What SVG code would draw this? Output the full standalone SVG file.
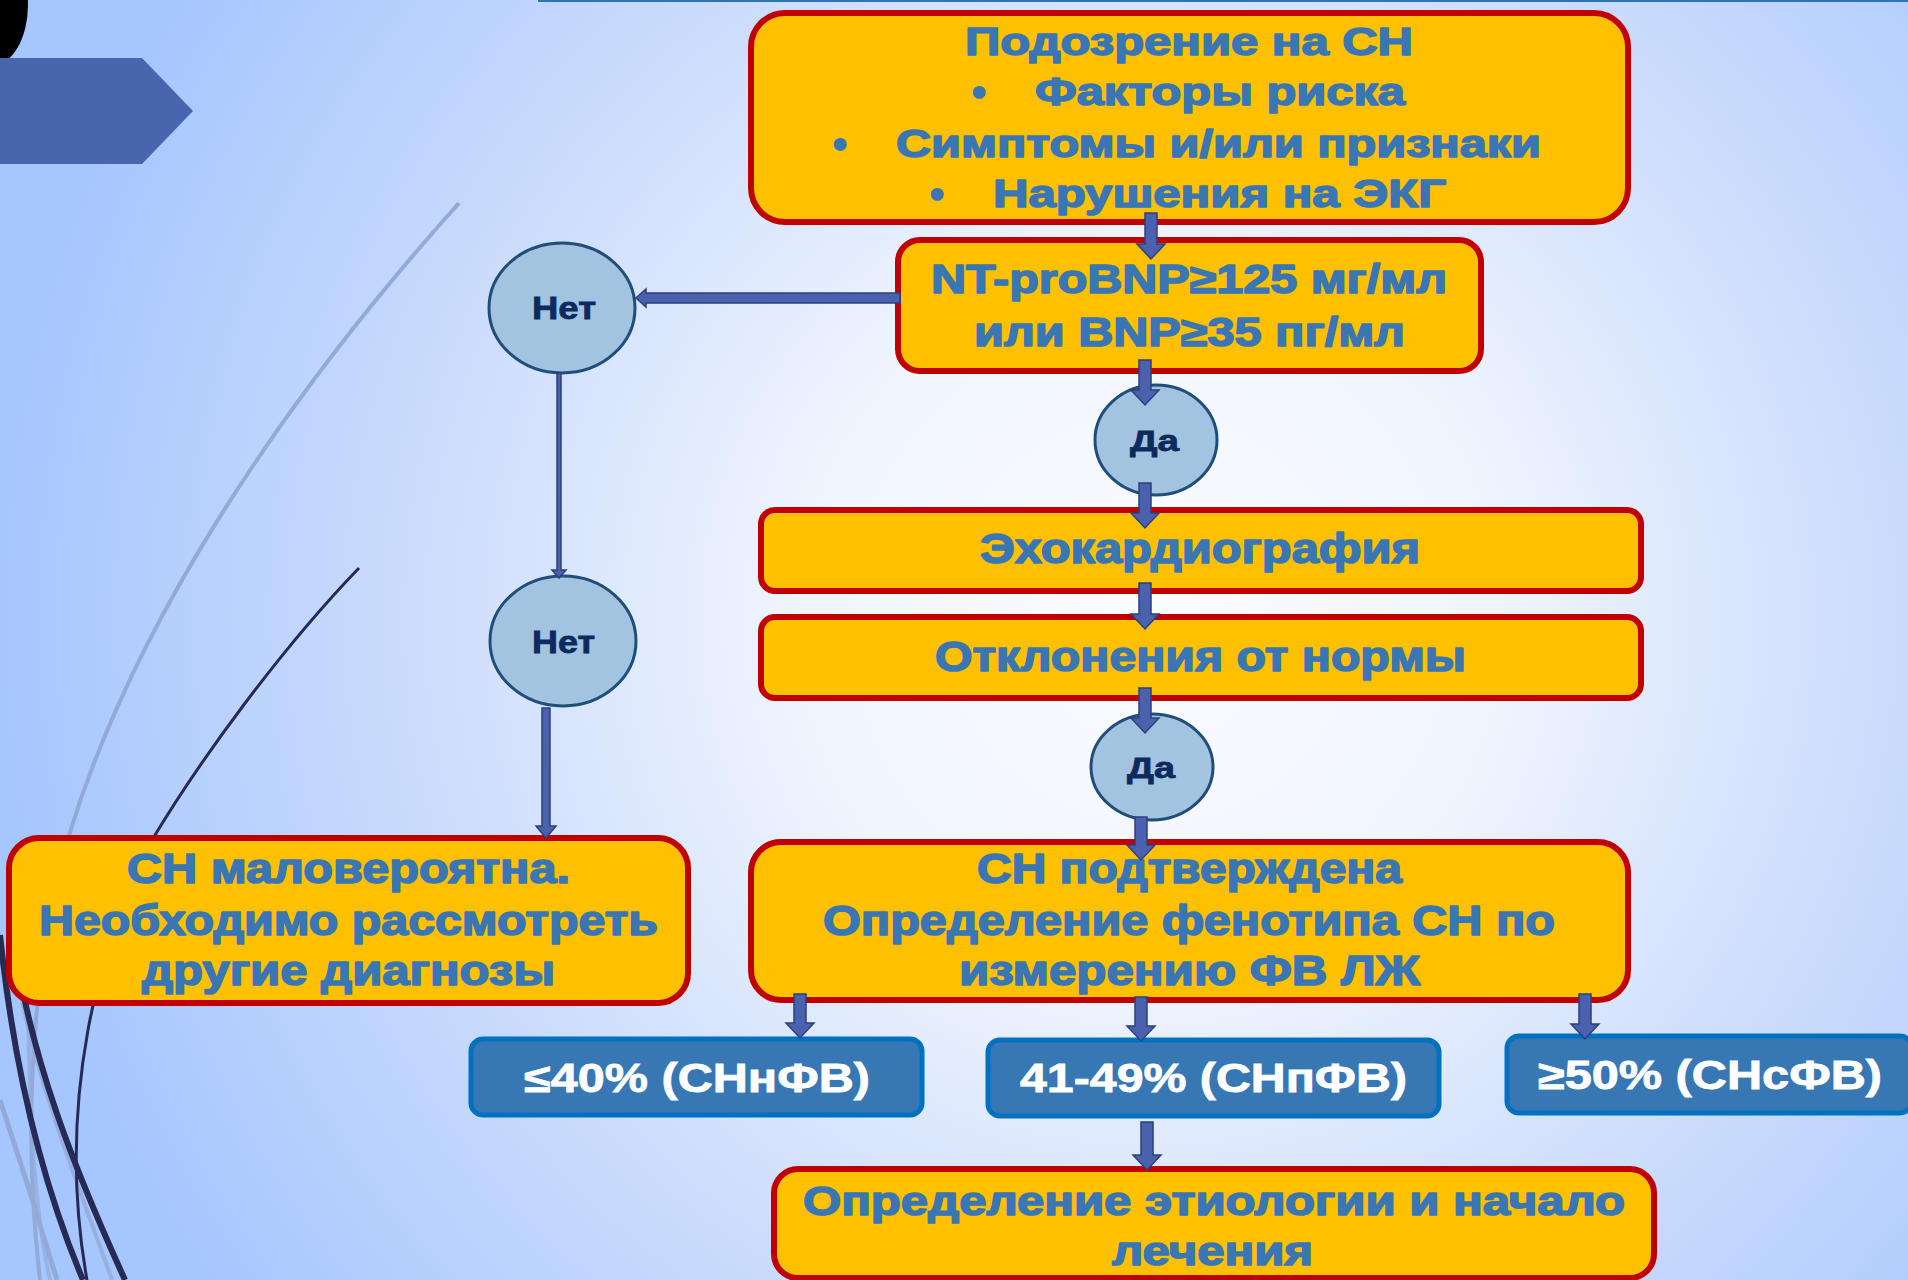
<svg xmlns="http://www.w3.org/2000/svg" width="1908" height="1280" viewBox="0 0 1908 1280">
<defs>
<radialGradient id="bg" gradientUnits="userSpaceOnUse" cx="1150" cy="620" r="1160">
<stop offset="0" stop-color="#FBFCFF"/>
<stop offset="0.3" stop-color="#F0F5FE"/>
<stop offset="0.62" stop-color="#CDDDFC"/>
<stop offset="1" stop-color="#A5C6FE"/>
</radialGradient>
<style>
.yb{fill:#FFC000;stroke:#C00000;stroke-width:6}
.bb{fill:#3778B4;stroke:#0070C0;stroke-width:5}
.ci{fill:#A3C4E1;stroke:#1F4E79;stroke-width:3}
.t{font-family:"Liberation Sans",Arial,sans-serif;font-weight:bold;fill:#3A76B3;stroke:#3A76B3;stroke-width:1.6;stroke-linejoin:round}
.w{font-family:"Liberation Sans",Arial,sans-serif;font-weight:bold;fill:#FFFFFF;stroke:#FFFFFF;stroke-width:0.8;font-size:40px}
.c{font-family:"Liberation Sans",Arial,sans-serif;font-weight:bold;fill:#0E2A5C;stroke:#0E2A5C;stroke-width:0.8}
.ar{fill:#4A62AD;stroke:#2E3F7E;stroke-width:1.5}
.dk{fill:none;stroke:#262A55}
.lt{fill:none;stroke:#93AAD8}
</style>
</defs>
<rect x="0" y="0" width="1908" height="1280" fill="url(#bg)"/>
<!-- decoration -->
<ellipse cx="-10" cy="5" rx="38" ry="62" fill="#000000"/>
<polygon points="0,58 142,58 193,111 142,164 0,164" fill="#4866AD"/>
<line x1="538" y1="1" x2="1908" y2="1" stroke="#2E74B5" stroke-width="2"/>
<path class="lt" d="M459,203 C 300,380 110,640 52,900 C 30,1020 25,1150 40,1280" stroke-width="4"/>
<path class="lt" d="M0,1100 Q 30,1190 57,1280" stroke-width="5"/>
<path class="lt" d="M22,1000 C 40,1090 80,1190 112,1280" stroke-width="4" opacity="0.8"/>
<path class="lt" d="M28,1010 C 30,1100 32,1200 50,1280" stroke-width="4" opacity="0.7"/>
<path class="dk" d="M359,568 C 280,650 200,760 152,840 C 100,940 55,1100 87,1280" stroke-width="3"/>
<path class="dk" d="M0,935 C 15,1080 45,1190 83,1280" stroke-width="6"/>
<path class="dk" d="M12,930 C 30,1060 75,1170 125,1280" stroke-width="6"/>

<g id="n-suspect">
<rect class="yb" x="751" y="13" width="877" height="209" rx="34"/>
<text class="t" font-size="39" x="965" y="55" textLength="448" lengthAdjust="spacingAndGlyphs">Подозрение на СН</text>
<text class="t" font-size="39" x="979" y="105" text-anchor="middle">•</text>
<text class="t" font-size="39" x="1035" y="105" textLength="370" lengthAdjust="spacingAndGlyphs">Факторы риска</text>
<text class="t" font-size="39" x="840" y="157" text-anchor="middle">•</text>
<text class="t" font-size="39" x="896" y="157" textLength="645" lengthAdjust="spacingAndGlyphs">Симптомы и/или признаки</text>
<text class="t" font-size="39" x="937" y="207" text-anchor="middle">•</text>
<text class="t" font-size="39" x="993" y="207" textLength="453" lengthAdjust="spacingAndGlyphs">Нарушения на ЭКГ</text>
</g>
<g id="n-bnp">
<rect class="yb" x="898" y="240" width="583" height="131" rx="22"/>
<text class="t" font-size="41" x="931" y="293" textLength="516" lengthAdjust="spacingAndGlyphs">NT-proBNP≥125 мг/мл</text>
<text class="t" font-size="41" x="974" y="346" textLength="431" lengthAdjust="spacingAndGlyphs">или BNP≥35 пг/мл</text>
</g>
<g id="n-no1">
<ellipse class="ci" cx="562" cy="308" rx="73" ry="65"/>
<text class="c" font-size="32" x="532" y="319" textLength="64" lengthAdjust="spacingAndGlyphs">Нет</text>
</g>
<g id="n-yes1">
<ellipse class="ci" cx="1156" cy="440" rx="61" ry="55"/>
<text class="c" font-size="30" x="1130" y="451" textLength="49" lengthAdjust="spacingAndGlyphs">Да</text>
</g>
<g id="n-echo">
<rect class="yb" x="761" y="510" width="880" height="81" rx="14"/>
<text class="t" font-size="43" x="980" y="563" textLength="440" lengthAdjust="spacingAndGlyphs">Эхокардиография</text>
</g>
<g id="n-abn">
<rect class="yb" x="761" y="617" width="880" height="81" rx="14"/>
<text class="t" font-size="43" x="935" y="671" textLength="531" lengthAdjust="spacingAndGlyphs">Отклонения от нормы</text>
</g>
<g id="n-no2">
<ellipse class="ci" cx="563" cy="641" rx="73" ry="65"/>
<text class="c" font-size="32" x="532" y="653" textLength="63" lengthAdjust="spacingAndGlyphs">Нет</text>
</g>
<g id="n-yes2">
<ellipse class="ci" cx="1152" cy="767" rx="61" ry="53"/>
<text class="c" font-size="30" x="1127" y="778" textLength="48" lengthAdjust="spacingAndGlyphs">Да</text>
</g>
<g id="n-unlikely">
<rect class="yb" x="9" y="838" width="679" height="165" rx="30"/>
<text class="t" font-size="42" x="127" y="883" textLength="443" lengthAdjust="spacingAndGlyphs">СН маловероятна.</text>
<text class="t" font-size="42" x="39" y="935" textLength="619" lengthAdjust="spacingAndGlyphs">Необходимо рассмотреть</text>
<text class="t" font-size="42" x="142" y="985" textLength="413" lengthAdjust="spacingAndGlyphs">другие диагнозы</text>
</g>
<g id="n-confirmed">
<rect class="yb" x="751" y="842" width="877" height="158" rx="30"/>
<text class="t" font-size="42" x="977" y="883" textLength="425" lengthAdjust="spacingAndGlyphs">СН подтверждена</text>
<text class="t" font-size="42" x="823" y="935" textLength="732" lengthAdjust="spacingAndGlyphs">Определение фенотипа СН по</text>
<text class="t" font-size="42" x="959" y="985" textLength="461" lengthAdjust="spacingAndGlyphs">измерению ФВ ЛЖ</text>
</g>
<g id="n-ref">
<rect class="bb" x="471" y="1039" width="451" height="76" rx="12"/>
<text class="w" x="524" y="1092" textLength="346" lengthAdjust="spacingAndGlyphs">≤40% (СНнФВ)</text>
</g>
<g id="n-mref">
<rect class="bb" x="988" y="1040" width="451" height="76" rx="12"/>
<text class="w" x="1020" y="1092" textLength="387" lengthAdjust="spacingAndGlyphs">41-49% (СНпФВ)</text>
</g>
<g id="n-pef">
<rect class="bb" x="1507" y="1036" width="405" height="77" rx="12"/>
<text class="w" x="1538" y="1089" textLength="344" lengthAdjust="spacingAndGlyphs">≥50% (СНсФВ)</text>
</g>
<g id="n-etiology">
<rect class="yb" x="774" y="1169" width="880" height="109" rx="24"/>
<text class="t" font-size="40" x="803" y="1215" textLength="822" lengthAdjust="spacingAndGlyphs">Определение этиологии и начало</text>
<text class="t" font-size="40" x="1112" y="1265" textLength="201" lengthAdjust="spacingAndGlyphs">лечения</text>
</g>

<g id="connectors">
<polygon class="ar" points="1145,213 1157,213 1157,244 1165,244 1151,259 1137,244 1145,244"/>
<polygon class="ar" points="1139,360 1151,360 1151,390 1159,390 1145,405 1131,390 1139,390"/>
<polygon class="ar" points="1139,483 1151,483 1151,513 1159,513 1145,528 1131,513 1139,513"/>
<polygon class="ar" points="1139,583 1151,583 1151,614 1159,614 1145,629 1131,614 1139,614"/>
<polygon class="ar" points="1139,688 1151,688 1151,718 1159,718 1145,733 1131,718 1139,718"/>
<polygon class="ar" points="1135,817 1147,817 1147,845 1155,845 1141,860 1127,845 1135,845"/>
<polygon class="ar" points="794,994 806,994 806,1023 814,1023 800,1038 786,1023 794,1023"/>
<polygon class="ar" points="1135,997 1147,997 1147,1026 1155,1026 1141,1041 1127,1026 1135,1026"/>
<polygon class="ar" points="1579,994 1591,994 1591,1024 1599,1024 1585,1039 1571,1024 1579,1024"/>
<polygon class="ar" points="1141,1122 1153,1122 1153,1155 1161,1155 1147,1170 1133,1155 1141,1155"/>
<polygon class="ar" points="542,708 550,708 550,826 556,826 546,838 536,826 542,826"/>
<polygon class="ar" points="900,293 900,303 646,303 646,307 636,298 646,289 646,293"/>
<polygon class="ar" points="557,373 561,373 561,570 566,570 559,578 552,570 557,570"/>
</g>
</svg>
